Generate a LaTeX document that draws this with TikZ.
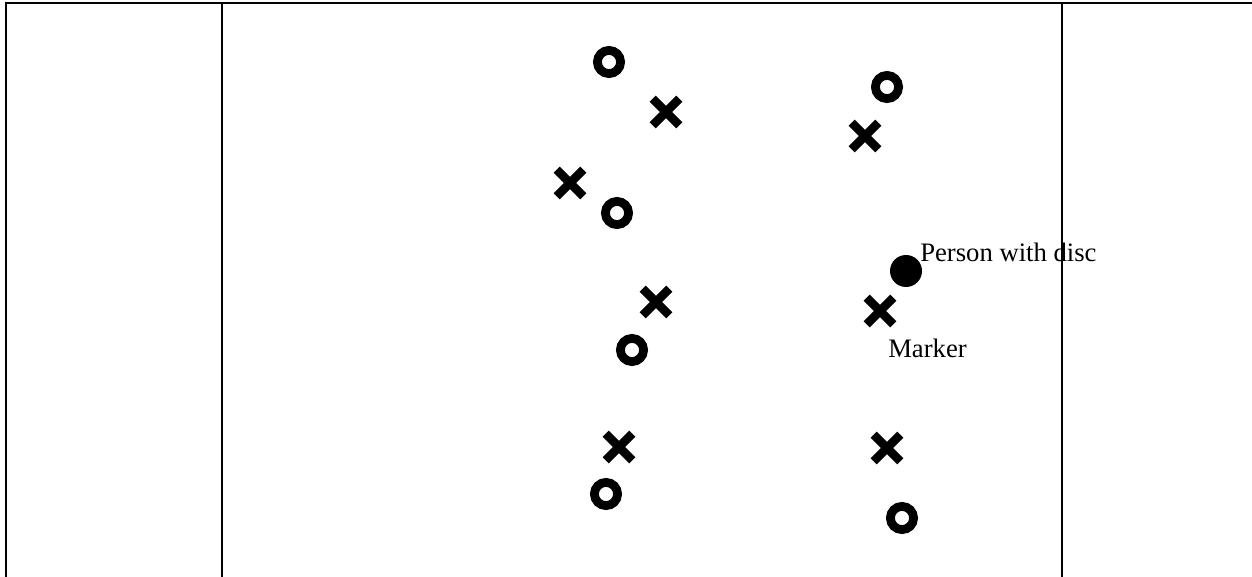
\documentclass[tikz,border=0pt]{standalone}
\usepackage{fontspec}
\setmainfont{Liberation Serif}
\usetikzlibrary{shapes.misc}
\tikzset{
  ring/.style={circle, draw=black, line width=6.6pt, minimum size=17.4pt, inner sep=0pt, outer sep=0pt},
  xmark/.style={cross out, draw=black, line width=6.5pt, minimum size=20pt, inner sep=0pt, outer sep=0pt},
  disc/.style={circle, fill=black, minimum size=24pt, inner sep=0pt},
  lbl/.style={anchor=base west, inner sep=0pt, font=\fontsize{20}{24}\selectfont},
  field/.style={line width=1.5pt, black}
}
\begin{document}
\begin{tikzpicture}[x=0.75pt, y=-0.75pt]
\useasboundingbox (0,0) rectangle (1252,577);
\fill[white] (0,0) rectangle (1252,577);
% circles
\node[ring] (o1) at (609,62) {};
\node[ring] (o2) at (887,87) {};
\node[ring] (o3) at (617,213) {};
\node[ring] (o4) at (632,350) {};
\node[ring] (o5) at (606,494) {};
\node[ring] (o6) at (902,518) {};
% crosses
\node[xmark] (x1) at (666,112) {};
\node[xmark] (x2) at (865,136) {};
\node[xmark] (x3) at (570,183) {};
\node[xmark] (x4) at (656,302) {};
\node[xmark] (x5) at (880,311) {};
\node[xmark] (x6) at (619,447) {};
\node[xmark] (x7) at (887,448) {};
% disc
\node[disc] (d) at (906,271) {};
\node[lbl] (t1) at (920,262) {Person with disc};
\node[lbl] (t2) at (888,357) {Marker};
% field lines
\draw[field] (6,577) -- (6,3) -- (1252,3);
\draw[field] (222,3) -- (222,577);
\draw[field] (1062,3) -- (1062,577);
\end{tikzpicture}
\end{document}
